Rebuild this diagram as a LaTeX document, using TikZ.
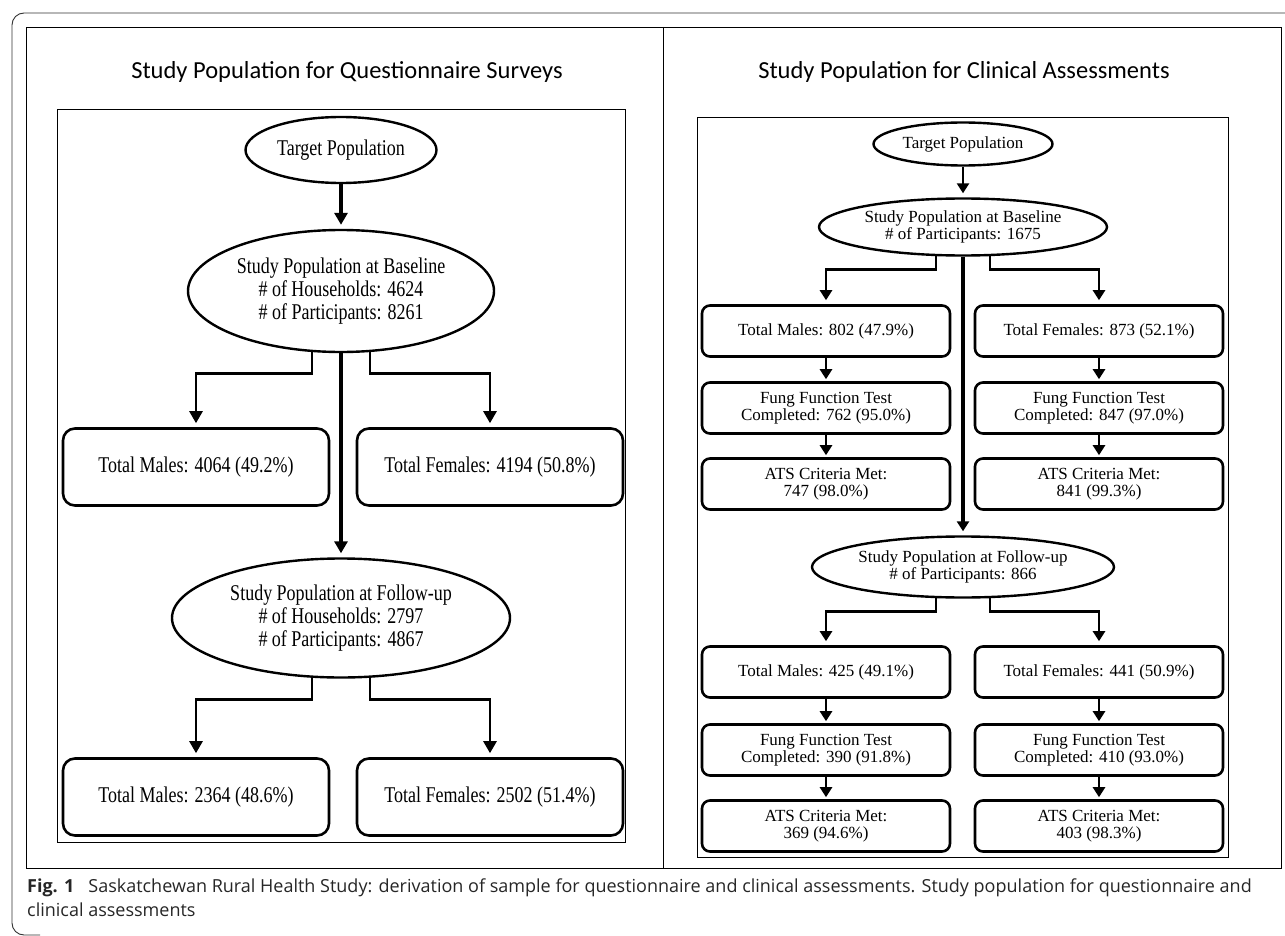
\documentclass[tikz,border=0pt]{standalone}
\usepackage{fontspec}
\setmainfont{Liberation Serif}
\newfontfamily\tallserif[FakeStretch=0.8]{Liberation Serif}
\newfontfamily\titlefont{Carlito}
\newfontfamily\capfont{Open Sans}
\usetikzlibrary{arrows.meta,calc,shapes.geometric,positioning}

\newcommand{\lfont}{\tallserif\fontsize{22.5}{23}\selectfont}
\newcommand{\rfont}{\fontsize{17}{17}\selectfont}

\tikzset{
  popell/.style={draw,ellipse,line width=2.4pt,inner sep=0pt,align=center},
  popbox/.style={draw,rounded corners=12pt,line width=2.6pt,inner sep=0pt,align=center},
  link/.style={line width=2.6pt,-{Triangle[length=12pt,width=13pt]},shorten >=4pt},
  trunk/.style={link,line width=4pt},
  frame/.style={line width=0.9pt},
  paneltitle/.style={font=\titlefont\fontsize{24.5}{28}\selectfont,anchor=base},
  captext/.style={font=\capfont\fontsize{18}{22}\selectfont,anchor=base west,inner sep=0pt,text=black!85},
}

\begin{document}
\begin{tikzpicture}[x=1pt,y=-1pt]
  \useasboundingbox (0,0) rectangle (1285,936);
  % page frame and table
  \draw[frame,black!80,rounded corners=12pt] (1285,13) -- (12,13) -- (12,935) -- (40,935);
  \draw[frame] (26,27) rectangle (1281,868);
  \draw[frame] (663,27) -- (663,868);

  \node[paneltitle] (ltitle) at (347,79) {Study Population for Questionnaire Surveys};
  \node[paneltitle] (rtitle) at (964,79) {Study Population for Clinical Assessments};

  % questionnaire surveys
  \draw[frame] (57,109) rectangle (625,842);
  \begin{scope}[every node/.style={font=\lfont}]
    \node[popell,minimum width=191pt,minimum height=66pt] (ltarget) at (341,150) {Target Population};
    \node[popell,minimum width=306pt,minimum height=122pt] (lbase) at (341,291)
      {Study Population at Baseline\\\# of Households: 4624\\\# of Participants: 8261};
    \node[popbox,minimum width=266pt,minimum height=77pt] (lmale1) at (196,467) {Total Males: 4064 (49.2\%)};
    \node[popbox,minimum width=266pt,minimum height=77pt] (lfem1) at (490,467) {Total Females: 4194 (50.8\%)};
    \node[popell,minimum width=338pt,minimum height=119pt] (lfollow) at (341,618)
      {Study Population at Follow-up\\\# of Households: 2797\\\# of Participants: 4867};
    \node[popbox,minimum width=266pt,minimum height=77pt] (lmale2) at (196,797) {Total Males: 2364 (48.6\%)};
    \node[popbox,minimum width=266pt,minimum height=77pt] (lfem2) at (490,797) {Total Females: 2502 (51.4\%)};
  \end{scope}
  \coordinate (lbar1) at ($(lbase.south)+(0,20)$);
  \coordinate (lbar2) at ($(lfollow.south)+(0,21)$);
  \draw[link,line width=3.6pt] (ltarget) -- (lbase);
  \draw[trunk,line width=4.4pt] (lbase) -- (lfollow);
  \draw[link] ($(lbase.south)+(-29,-1)$) |- (lbar1 -| lmale1) -- (lmale1);
  \draw[link] ($(lbase.south)+(29,-1)$) |- (lbar1 -| lfem1) -- (lfem1);
  \draw[link] ($(lfollow.south)+(-29,-1)$) |- (lbar2 -| lmale2) -- (lmale2);
  \draw[link] ($(lfollow.south)+(29,-1)$) |- (lbar2 -| lfem2) -- (lfem2);

  % clinical assessments
  \draw[frame] (697,117) rectangle (1228,857);
  \begin{scope}[every node/.style={font=\rfont},
      cbox/.style={popbox,rounded corners=8pt,minimum width=248pt,minimum height=51pt},
      clink/.style={link,-{Triangle[length=10pt,width=12pt]}}]
    \node[popell,minimum width=179pt,minimum height=43pt] (rtarget) at (963,144) {Target Population};
    \node[popell,minimum width=288pt,minimum height=57pt] (rbase) at (963,227)
      {Study Population at Baseline\\\# of Participants: 1675};
    \node[cbox] (rmale1) at (826,331) {Total Males: 802 (47.9\%)};
    \node[cbox] (rfem1) at (1099,331) {Total Females: 873 (52.1\%)};
    \node[cbox] (rmale2) at (826,408) {Fung Function Test\\Completed: 762 (95.0\%)};
    \node[cbox] (rfem2) at (1099,408) {Fung Function Test\\Completed: 847 (97.0\%)};
    \node[cbox] (rmale3) at (826,484) {ATS Criteria Met:\\747 (98.0\%)};
    \node[cbox] (rfem3) at (1099,484) {ATS Criteria Met:\\841 (99.3\%)};
    \node[popell,minimum width=302pt,minimum height=61pt] (rfollow) at (963,567)
      {Study Population at Follow-up\\\# of Participants: 866};
    \node[cbox] (rmale4) at (826,672) {Total Males: 425 (49.1\%)};
    \node[cbox] (rfem4) at (1099,672) {Total Females: 441 (50.9\%)};
    \node[cbox] (rmale5) at (826,750) {Fung Function Test\\Completed: 390 (91.8\%)};
    \node[cbox] (rfem5) at (1099,750) {Fung Function Test\\Completed: 410 (93.0\%)};
    \node[cbox] (rmale6) at (826,826) {ATS Criteria Met:\\369 (94.6\%)};
    \node[cbox] (rfem6) at (1099,826) {ATS Criteria Met:\\403 (98.3\%)};

    \coordinate (rbar1) at ($(rbase.south)+(0,13)$);
    \coordinate (rbar2) at ($(rfollow.south)+(0,13)$);
    \draw[clink] (rtarget) -- (rbase);
    \draw[clink,line width=3.6pt] (rbase) -- (rfollow);
    \draw[clink] ($(rbase.south)+(-27,-1)$) |- (rbar1 -| rmale1) -- (rmale1);
    \draw[clink] ($(rbase.south)+(27,-1)$) |- (rbar1 -| rfem1) -- (rfem1);
    \draw[clink] ($(rfollow.south)+(-27,-1)$) |- (rbar2 -| rmale4) -- (rmale4);
    \draw[clink] ($(rfollow.south)+(27,-1)$) |- (rbar2 -| rfem4) -- (rfem4);
    \foreach \a/\b in {rmale1/rmale2,rmale2/rmale3,rfem1/rfem2,rfem2/rfem3,
                       rmale4/rmale5,rmale5/rmale6,rfem4/rfem5,rfem5/rfem6}
    {
      \draw[clink,shorten >=2pt] (\a) -- (\b);
    }
  \end{scope}

  % caption
  \node[captext] (cap1) at (27,892) {\textbf{Fig. 1}\hspace{14pt}Saskatchewan Rural Health Study: derivation of sample for questionnaire and clinical assessments. Study population for questionnaire and};
  \node[captext] (cap2) at (27,916) {clinical assessments};
\end{tikzpicture}
\end{document}
